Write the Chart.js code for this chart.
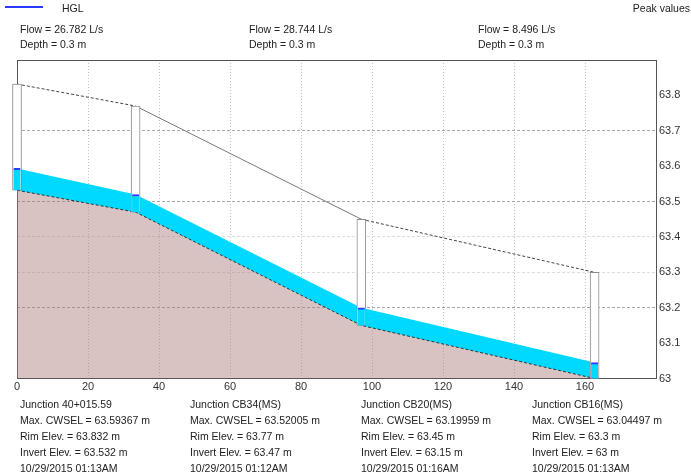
<!DOCTYPE html>
<html>
<head>
<meta charset="utf-8">
<script src="https://cdn.jsdelivr.net/npm/chart.js@4.4.1/dist/chart.umd.min.js"></script>
<style>
  html, body { margin: 0; padding: 0; background: #fff; }
  #wrap { position: relative; width: 691px; height: 472px; overflow: hidden; font-family: "Liberation Sans", Arial, sans-serif; color: #222; }
  #c { position: absolute; left: 0; top: 0; }
  .t { position: absolute; font-size: 10.5px; line-height: 16px; white-space: nowrap; }
  #legLine { position: absolute; left: 5px; top: 6px; width: 38px; height: 2px; background: #2a3cff; }
</style>
</head>
<body>
<div id="wrap">
  <canvas id="c" width="691" height="472"></canvas>
  <div id="legLine"></div>
  <div class="t" style="left:62px;top:0px;">HGL</div>
  <div class="t" style="right:1px;top:0px;">Peak values</div>
  <div id="labels"></div>
</div>
<script>
// ---- data ----
const junctionNames = ["Junction 40+015.59", "Junction CB34(MS)", "Junction CB20(MS)", "Junction CB16(MS)"];
const stations = [0, 33.4, 97, 162.7];
const maxCwsel = [63.59367, 63.52005, 63.19959, 63.04497];
const rimElev = [63.832, 63.77, 63.45, 63.3];
const invertElev = [63.532, 63.47, 63.15, 63];
const timestamps = ["10/29/2015 01:13AM", "10/29/2015 01:12AM", "10/29/2015 01:16AM", "10/29/2015 01:13AM"];
const pipeFlows = [26.782, 28.744, 8.496];
const pipeDepths = [0.3, 0.3, 0.3];
const xTickMin = 0, xTickMax = 180, xTickStep = 20;
const yTickMin = 63, yTickMax = 63.9, yTickStep = 0.1;

// ---- text labels ----
const lab = document.getElementById('labels');
const flowX = [20, 249, 478];
pipeFlows.forEach((f, i) => {
  const d = document.createElement('div');
  d.className = 't';
  d.style.left = flowX[i] + 'px';
  d.style.top = '22px';
  d.style.lineHeight = '15px';
  d.innerHTML = 'Flow = ' + f + ' L/s<br>Depth = ' + pipeDepths[i] + ' m';
  lab.appendChild(d);
});
const juncX = [20, 190, 361, 532];
junctionNames.forEach((n, i) => {
  const d = document.createElement('div');
  d.className = 't';
  d.style.left = juncX[i] + 'px';
  d.style.top = '396px';
  d.innerHTML = n + '<br>Max. CWSEL = ' + maxCwsel[i] + ' m<br>Rim Elev. = ' + rimElev[i] +
    ' m<br>Invert Elev. = ' + invertElev[i] + ' m<br>' + timestamps[i];
  lab.appendChild(d);
});

const pts = (ys) => stations.map((s, i) => ({ x: s, y: ys[i] }));
const ranges = (a, b) => stations.map((s, i) => ({ x: s, y: [a[i], b[i]] }));

const yGridColor = (ctx) => {
  if (!ctx || !ctx.tick) return 'rgba(0,0,0,0)';
  const v = Math.round(ctx.tick.value * 10) / 10;
  if (v === 63.7 || v === 63.5 || v === 63.2) return '#a8a8a8';
  if (v === 63.4 || v === 63.3) return '#dedede';
  return 'rgba(0,0,0,0)';
};
const xGridColor = (ctx) => {
  if (!ctx || !ctx.tick) return 'rgba(0,0,0,0)';
  const v = ctx.tick.value;
  return (v <= xTickMin || v >= xTickMax) ? 'rgba(0,0,0,0)' : '#c4c4c4';
};

new Chart(document.getElementById('c'), {
  type: 'bar',
  data: {
    datasets: [
      { type: 'line', label: 'HGL', data: pts(maxCwsel), borderWidth: 0, borderColor: 'rgba(0,0,0,0)',
        pointRadius: 0, fill: '+1', backgroundColor: '#00d9ff', order: 4 },
      { type: 'line', label: 'Invert', data: pts(invertElev), borderWidth: 1, borderColor: '#333',
        borderDash: [3, 2], pointRadius: 0, fill: 'start', backgroundColor: 'rgba(170,120,120,0.45)', order: 3 },
      { type: 'line', label: 'Rim', data: pts(rimElev), borderWidth: 1, pointRadius: 0, fill: false, order: 2,
        borderColor: '#444',
        segment: {
          borderDash: (ctx) => ctx.p0DataIndex === 1 ? [] : [3, 2],
          borderColor: (ctx) => ctx.p0DataIndex === 1 ? '#777' : '#444'
        } },
      { type: 'bar', label: 'Junction', data: ranges(invertElev, rimElev), backgroundColor: '#ffffff',
        borderColor: '#8a8a8a', borderWidth: 1, borderSkipped: false, barThickness: 9, grouped: false,
        clip: false, order: 1 },
      { type: 'bar', label: 'Junction HGL', data: ranges(invertElev, maxCwsel), backgroundColor: '#00d9ff',
        borderColor: '#2a3cff', borderWidth: { top: 2, right: 0, bottom: 0, left: 0 }, borderSkipped: false,
        barThickness: 7, grouped: false, clip: false, order: 0 }
    ]
  },
  options: {
    responsive: false,
    animation: false,
    devicePixelRatio: 1,
    layout: { padding: { top: 60, left: 17, right: 0, bottom: 0 } },
    plugins: { legend: { display: false }, tooltip: { enabled: false } },
    scales: {
      x: {
        type: 'linear', position: 'bottom', min: xTickMin, max: xTickMax, offset: false,
        ticks: { stepSize: xTickStep, padding: 2, color: '#333', font: { family: 'Liberation Sans', size: 11 },
          maxRotation: 0, autoSkip: false,
          callback: (v) => v >= xTickMax ? '' : String(v) },
        grid: { drawTicks: false, offset: false, color: xGridColor },
        border: { color: '#555', width: 1, dash: [1, 2] },
        afterFit: (s) => { s.height = 93.5; }
      },
      y: {
        type: 'linear', position: 'right', min: yTickMin, max: yTickMax,
        ticks: { stepSize: yTickStep, padding: 3, color: '#333', font: { family: 'Liberation Sans', size: 11 },
          callback: (v) => v > yTickMax - 0.05 ? '' : String(Math.round(v * 10) / 10) },
        grid: { drawTicks: false, offset: false, color: yGridColor },
        border: { color: '#555', width: 1, dash: [3, 2] },
        afterFit: (s) => { s.width = 35; }
      },
      xTop: {
        type: 'linear', position: 'top', display: true,
        ticks: { display: false }, grid: { display: false, drawTicks: false },
        border: { color: '#555', width: 1 },
        afterFit: (s) => { s.height = 0; }
      },
      yLeft: {
        type: 'linear', position: 'left', display: true,
        ticks: { display: false }, grid: { display: false, drawTicks: false },
        border: { color: '#555', width: 1 },
        afterFit: (s) => { s.width = 0; }
      }
    }
  }
});
</script>
</body>
</html>
